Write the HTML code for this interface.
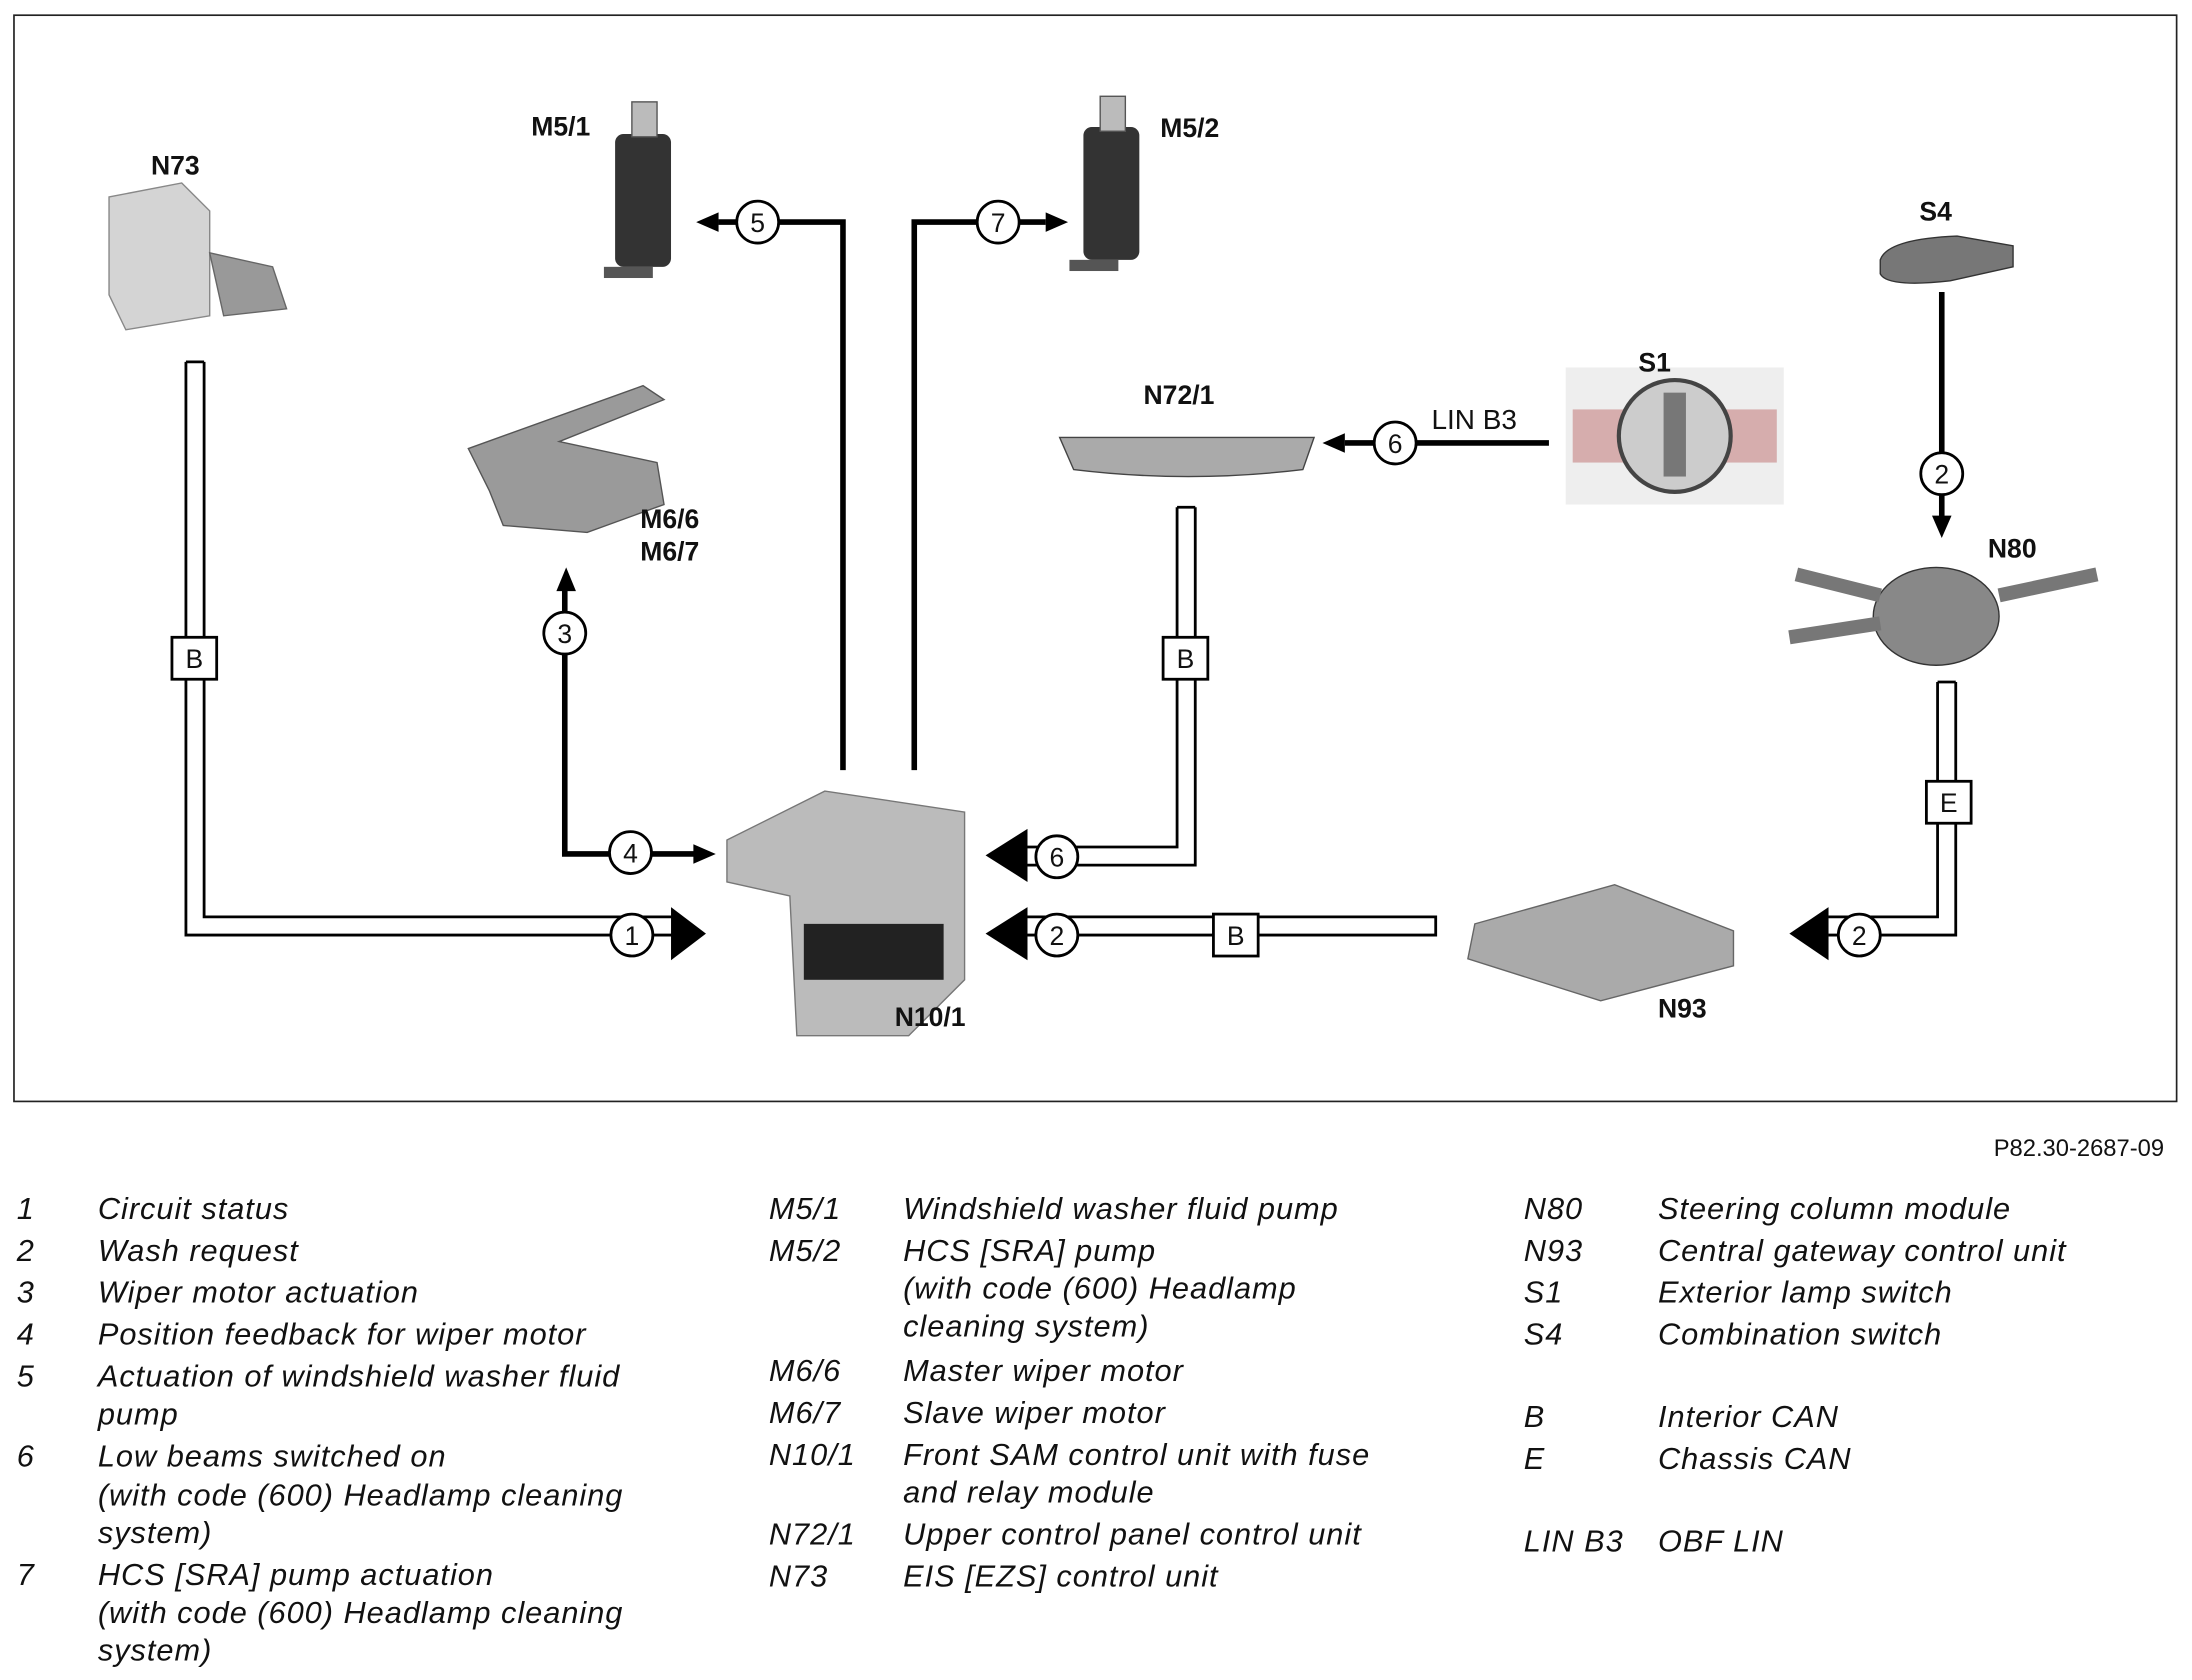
<!DOCTYPE html>
<html><head><meta charset="utf-8"><style>
html,body{margin:0;padding:0;background:#fff;}
svg{display:block;}
text{font-family:"Liberation Sans",Arial,sans-serif;}
.lbl{font-weight:bold;font-size:19px;fill:#111;}
.lg{font-style:italic;font-size:22px;letter-spacing:0.7px;fill:#111;}
.cn{font-size:19px;fill:#111;}
</style></head><body>
<svg width="2192" height="1680" viewBox="0 0 1568 1200" xmlns="http://www.w3.org/2000/svg">
<rect x="0" y="0" width="1568" height="1200" fill="#fff"/>
<rect x="10" y="10" width="1547" height="777" fill="none" stroke="#222" stroke-width="1.2"/>

<g fill="none" stroke="#000" stroke-width="2">
<path d="M133,258 V668 H482 M146,258 V655 H482 M133,258 H146"/>
<path d="M855,362 V618 H735 M842,362 V605 H735 M842,362 H855"/>
<path d="M1027,661 V655 H735 M1027,661 V668 H735"/>
<path d="M1386,487 V655 H1308 M1399,487 V668 H1308 M1386,487 H1399"/>
</g>
<g fill="none" stroke="#000" stroke-width="4">
<path d="M404,420 V610 H498"/>
<path d="M603,550 V158 H514"/>
<path d="M654,550 V158 H748"/>
<path d="M1108,316 H962"/>
<path d="M1389,208 V370"/>
</g>
<g fill="#000">
<polygon points="480,648 480,686 505,667"/>
<polygon points="735,592 735,630 705,611"/>
<polygon points="735,648 735,686 705,667"/>
<polygon points="1308,648 1308,686 1280,667"/>
<polygon points="496,603 496,617 512,610"/>
<polygon points="398,422 412,422 405,405"/>
<polygon points="514,151 514,165 498,158"/>
<polygon points="748,151 748,165 764,158"/>
<polygon points="962,309 962,323 946,316"/>
<polygon points="1382,368 1396,368 1389,384"/>
</g>
<g fill="#fff" stroke="#000" stroke-width="2">
<circle cx="452" cy="668" r="15"/><circle cx="404" cy="452" r="15"/><circle cx="451" cy="609" r="15"/>
<circle cx="542" cy="158" r="15"/><circle cx="714" cy="158" r="15"/><circle cx="756" cy="612" r="15"/>
<circle cx="756" cy="668" r="15"/><circle cx="1330" cy="668" r="15"/><circle cx="1389" cy="338" r="15"/>
<circle cx="998" cy="316" r="15"/>
<rect x="123" y="455" width="32" height="30"/><rect x="832" y="455" width="32" height="30"/>
<rect x="868" y="653" width="32" height="30"/><rect x="1378" y="558" width="32" height="30"/>
</g>
<g class="cn" text-anchor="middle">
<text x="452" y="675">1</text><text x="404" y="459">3</text><text x="451" y="616">4</text>
<text x="542" y="165">5</text><text x="714" y="165">7</text><text x="756" y="619">6</text>
<text x="756" y="675">2</text><text x="1330" y="675">2</text><text x="1389" y="345">2</text>
<text x="998" y="323">6</text>
<text x="139" y="477">B</text><text x="848" y="477">B</text><text x="884" y="675">B</text><text x="1394" y="580">E</text>
</g>
<text x="1024" y="306" font-size="20" fill="#111">LIN B3</text>

<g>
<path d="M78,140 L130,130 L150,150 L150,225 L90,235 L78,210Z" fill="#d4d4d4" stroke="#888"/>
<path d="M150,180 L195,190 L205,220 L160,225Z" fill="#999" stroke="#666"/>
<rect x="440" y="95" width="40" height="95" rx="6" fill="#333"/><rect x="452" y="72" width="18" height="25" fill="#bbb" stroke="#555"/>
<rect x="432" y="190" width="35" height="8" fill="#555"/>
<rect x="775" y="90" width="40" height="95" rx="6" fill="#333"/><rect x="787" y="68" width="18" height="25" fill="#bbb" stroke="#555"/>
<rect x="765" y="185" width="35" height="8" fill="#555"/>
<path d="M335,320 L460,275 L475,285 L400,315 L470,330 L475,360 L420,380 L360,375 L350,350Z" fill="#9a9a9a" stroke="#555"/>
<path d="M758,312 L940,312 L932,335 Q850,345 768,335Z" fill="#aaa" stroke="#444"/>
<rect x="1120" y="262" width="156" height="98" fill="#eee"/>
<rect x="1125" y="292" width="146" height="38" fill="#a33" opacity="0.35"/>
<circle cx="1198" cy="311" r="40" fill="#ccc" stroke="#444" stroke-width="3"/><rect x="1190" y="280" width="16" height="60" fill="#777"/>
<path d="M1345,185 Q1350,170 1400,168 L1440,175 L1440,190 L1395,200 Q1350,205 1345,195Z" fill="#777" stroke="#333"/>
<ellipse cx="1385" cy="440" rx="45" ry="35" fill="#888" stroke="#333"/>
<path d="M1285,410 L1345,425 M1280,455 L1345,445 M1430,425 L1500,410" stroke="#777" stroke-width="10" fill="none"/>
<path d="M520,600 L590,565 L690,580 L690,700 L650,740 L570,740 L565,640 L520,630Z" fill="#bbb" stroke="#777"/>
<rect x="575" y="660" width="100" height="40" fill="#222"/>
<path d="M1055,660 L1155,632 L1240,665 L1240,690 L1145,715 L1050,685Z" fill="#aaa" stroke="#666"/>
</g>

<g class="lbl">
<text x="108" y="124">N73</text><text x="380" y="96">M5/1</text><text x="830" y="97">M5/2</text>
<text x="1373" y="157">S4</text><text x="1172" y="265">S1</text><text x="818" y="288">N72/1</text>
<text x="458" y="377">M6/6</text><text x="458" y="400">M6/7</text><text x="1422" y="398">N80</text>
<text x="640" y="733">N10/1</text><text x="1186" y="727">N93</text>
</g>
<text x="1548" y="826" font-size="17" fill="#111" text-anchor="end">P82.30-2687-09</text>

<g class="lg">
<text x="12" y="871">1</text><text x="70" y="871">Circuit status</text>
<text x="12" y="901">2</text><text x="70" y="901">Wash request</text>
<text x="12" y="931">3</text><text x="70" y="931">Wiper motor actuation</text>
<text x="12" y="961">4</text><text x="70" y="961">Position feedback for wiper motor</text>
<text x="12" y="991">5</text><text x="70" y="991">Actuation of windshield washer fluid</text>
<text x="70" y="1018">pump</text>
<text x="12" y="1048">6</text><text x="70" y="1048">Low beams switched on</text>
<text x="70" y="1076">(with code (600) Headlamp cleaning</text>
<text x="70" y="1103">system)</text>
<text x="12" y="1133">7</text><text x="70" y="1133">HCS [SRA] pump actuation</text>
<text x="70" y="1160">(with code (600) Headlamp cleaning</text>
<text x="70" y="1187">system)</text>

<text x="550" y="871">M5/1</text><text x="646" y="871">Windshield washer fluid pump</text>
<text x="550" y="901">M5/2</text><text x="646" y="901">HCS [SRA] pump</text>
<text x="646" y="928">(with code (600) Headlamp</text>
<text x="646" y="955">cleaning system)</text>
<text x="550" y="987">M6/6</text><text x="646" y="987">Master wiper motor</text>
<text x="550" y="1017">M6/7</text><text x="646" y="1017">Slave wiper motor</text>
<text x="550" y="1047">N10/1</text><text x="646" y="1047">Front SAM control unit with fuse</text>
<text x="646" y="1074">and relay module</text>
<text x="550" y="1104">N72/1</text><text x="646" y="1104">Upper control panel control unit</text>
<text x="550" y="1134">N73</text><text x="646" y="1134">EIS [EZS] control unit</text>

<text x="1090" y="871">N80</text><text x="1186" y="871">Steering column module</text>
<text x="1090" y="901">N93</text><text x="1186" y="901">Central gateway control unit</text>
<text x="1090" y="931">S1</text><text x="1186" y="931">Exterior lamp switch</text>
<text x="1090" y="961">S4</text><text x="1186" y="961">Combination switch</text>
<text x="1090" y="1020">B</text><text x="1186" y="1020">Interior CAN</text>
<text x="1090" y="1050">E</text><text x="1186" y="1050">Chassis CAN</text>
<text x="1090" y="1109">LIN B3</text><text x="1186" y="1109">OBF LIN</text>
</g>
</svg>
</body></html>
